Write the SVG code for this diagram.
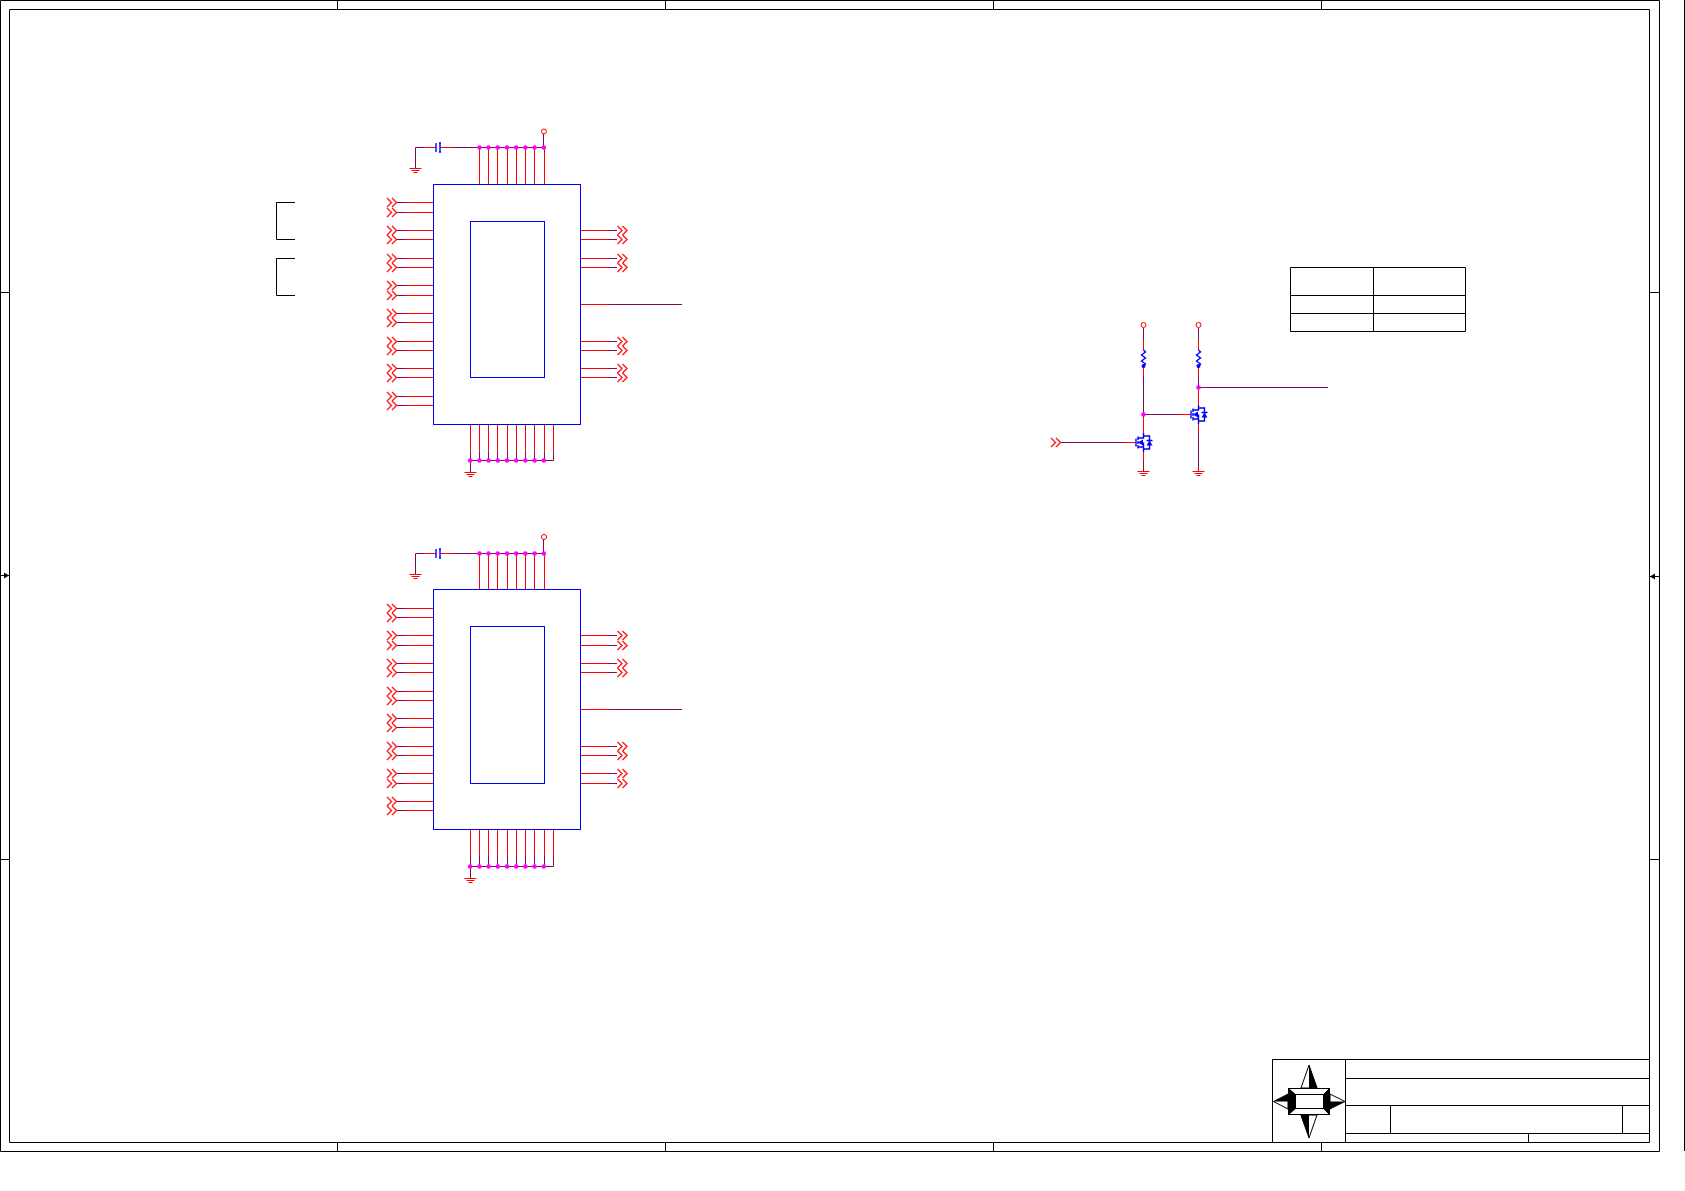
<svg xmlns="http://www.w3.org/2000/svg" width="1685" height="1191" viewBox="0 0 1685 1191">
<style>
.k{fill:none;stroke:#000;stroke-width:1}
.b{fill:none;stroke:#0000ff;stroke-width:1}
.bb{fill:none;stroke:#0000ff;stroke-width:1.4}
.r{fill:none;stroke:#ff0000;stroke-width:1}
.rr{fill:none;stroke:#ff1a1a;stroke-width:1.4}
.p{fill:none;stroke:#7f0a55;stroke-width:1}
.d{fill:#ff00ff;stroke:none}
.d circle{r:2.3px}
.bf{fill:#0000ff;stroke:none}
.kf{fill:#000;stroke:none}
.wf{fill:#fff;stroke:#000;stroke-width:1}
</style>
<defs>
<path id="chev" class="rr" d="M0 -4.5L4.5 0L0 4.5M5 -4.5L9.5 0L5 4.5"/>
<path id="gnd" class="r" d="M-6 0H6M-4 2H4M-2 4H2"/>
<circle id="pwr" class="r" cx="0" cy="0" r="2.5"/>
<g id="cap"><path class="bb" d="M-2 -4.5V4.5M2 -4.5V4.5M1 -4.5H3M1 4.5H3"/></g>
<g id="res"><path class="bb" d="M0 0L2 2L-2 5L2 8L-2 11L2 14L0 16V18"/><circle class="bf" cx="0" cy="16" r="2"/></g>
<g id="fet">
<path class="bb" d="M-7.5 -4V4M-5.5 -6V-2.5M-5.5 -1.5V1.5M-5.5 2.5V6M-5.5 -4.5H0V-9.5M-5.5 4.5H0V9.5M0 0V4.5M0 -6.5H6V6.5H0M3 -2H9"/>
<path class="bf" d="M-5.5 0L-0.5 -3V3Z"/>
<path class="bf" d="M3 3H9L6 -2Z"/>
</g>
</defs>
<rect width="1685" height="1191" fill="#fff"/>
<g id="frame">
<path class="k" d="M0.5 0.5H1659.5V1151.5H0.5ZM9.5 9.5H1649.5V1142.5H9.5ZM1684.5 0V1151"/>
<path class="k" d="M337.5 0V9M665.5 0V9M993.5 0V9M1321.5 0V9M337.5 1142V1151M665.5 1142V1151M993.5 1142V1151M1321.5 1142V1151M0 292.5H9M0 859.5H9M1649 292.5H1659M1649 859.5H1659M0 575.5H9M1650 576.5H1659"/>
<path class="kf" d="M9 575.5L4 572.5V578.5Z"/>
<path class="kf" d="M1650 576.5L1655 573.5V579.5Z"/>
</g>
<g id="title-block">
<path class="k" d="M1272.5 1059.5H1649.5M1272.5 1059.5V1142.5M1345.5 1059.5V1142.5M1345.5 1078.5H1649.5M1345.5 1105.5H1649.5M1345.5 1133.5H1649.5M1390.5 1105.5V1133.5M1622.5 1105.5V1133.5M1528.5 1133.5V1142.5"/>
<g id="compass">
<path class="wf" d="M1309 1065L1301 1088H1317Z"/>
<path class="kf" d="M1309 1065L1317.5 1088.5H1309Z"/>
<path class="wf" d="M1309 1138L1301 1115H1317Z"/>
<path class="kf" d="M1309 1138L1300.5 1115H1309Z"/>
<path class="wf" d="M1273.5 1101.5L1288 1094V1109Z"/>
<path class="kf" d="M1273.5 1101.5L1288.5 1094V1101.5Z"/>
<path class="wf" d="M1345 1101.5L1330 1094V1109Z"/>
<path class="kf" d="M1345 1101.5L1329.5 1109V1101.5Z"/>
<rect class="wf" x="1288.5" y="1088.5" width="41" height="26"/>
<path class="kf" d="M1288.5 1088.5L1295.5 1094.5V1108.5L1288.5 1114.5Z"/>
<path class="kf" d="M1329.5 1088.5L1323.5 1094.5V1108.5L1329.5 1114.5Z"/>
<rect class="wf" x="1295.5" y="1094.5" width="28" height="14"/>
<path class="k" d="M1288.5 1088.5L1295.5 1094.5M1329.5 1088.5L1323.5 1094.5M1288.5 1114.5L1295.5 1108.5M1329.5 1114.5L1323.5 1108.5"/>
</g>
</g>
<g id="table">
<path class="k" d="M1290.5 267.5H1465.5V331.5H1290.5ZM1373.5 267.5V331.5M1290.5 295.5H1465.5M1290.5 313.5H1465.5"/>
</g>
<g id="bracket-1"><path class="k" d="M295 202.5H276.5V239.5H295"/></g>
<g id="bracket-2"><path class="k" d="M295 258.5H276.5V295.5H295"/></g>

<g id="connectors">
<g id="wires-chip1">
<path class="r" d="M405 202.5H433M405 212.5H433M405 230.5H433M405 239.5H433M405 258.5H433M405 267.5H433M405 285.5H433M405 295.5H433M405 313.5H433M405 322.5H433M405 341.5H433M405 350.5H433M405 368.5H433M405 377.5H433M405 396.5H433M405 405.5H433"/>
<path class="p" d="M397 202.5H405M397 212.5H405M397 230.5H405M397 239.5H405M397 258.5H405M397 267.5H405M397 285.5H405M397 295.5H405M397 313.5H405M397 322.5H405M397 341.5H405M397 350.5H405M397 368.5H405M397 377.5H405M397 396.5H405M397 405.5H405"/>
<path class="r" d="M581 230.5H609M581 239.5H609M581 258.5H609M581 267.5H609M581 304.5H609M581 341.5H609M581 350.5H609M581 368.5H609M581 377.5H609"/>
<path class="p" d="M609 230.5H617M609 239.5H617M609 258.5H617M609 267.5H617M609 304.5H682M609 341.5H617M609 350.5H617M609 368.5H617M609 377.5H617"/>
<path class="r" d="M479.5 147.5V184M488.5 147.5V184M497.5 147.5V184M507.5 147.5V184M516.5 147.5V184M525.5 147.5V184M534.5 147.5V184M544.5 147.5V184"/>
<path class="p" d="M415.5 168V147.5H424M452 147.5H544M543.5 147.5V134"/>
<path class="r" d="M424 147.5H436M440 147.5H452"/>
<path class="r" d="M470.5 425V451.5M479.5 425V451.5M488.5 425V451.5M497.5 425V451.5M507.5 425V451.5M516.5 425V451.5M525.5 425V451.5M534.5 425V451.5M544.5 425V451.5M553.5 425V451.5"/>
<path class="p" d="M470.5 451.5V472M479.5 451.5V460M488.5 451.5V460M497.5 451.5V460M507.5 451.5V460M516.5 451.5V460M525.5 451.5V460M534.5 451.5V460M544.5 451.5V460M553.5 451.5V460.5H470.5"/>
<g class="d">
<circle cx="479.5" cy="147.5" r="2"/><circle cx="488.5" cy="147.5" r="2"/><circle cx="497.7" cy="147.5" r="2"/><circle cx="507" cy="147.5" r="2"/><circle cx="516.2" cy="147.5" r="2"/><circle cx="525.4" cy="147.5" r="2"/><circle cx="534.6" cy="147.5" r="2"/><circle cx="543.8" cy="147.5" r="2"/>
<circle cx="470.2" cy="460.5" r="2"/><circle cx="479.4" cy="460.5" r="2"/><circle cx="488.6" cy="460.5" r="2"/><circle cx="497.8" cy="460.5" r="2"/><circle cx="507" cy="460.5" r="2"/><circle cx="516.2" cy="460.5" r="2"/><circle cx="525.4" cy="460.5" r="2"/><circle cx="534.6" cy="460.5" r="2"/><circle cx="543.8" cy="460.5" r="2"/>
</g>
</g>
<g id="wires-chip2">
<path class="r" d="M405 608.5H433M405 617.5H433M405 635.5H433M405 645.5H433M405 663.5H433M405 672.5H433M405 691.5H433M405 700.5H433M405 718.5H433M405 727.5H433M405 746.5H433M405 755.5H433M405 773.5H433M405 783.5H433M405 801.5H433M405 810.5H433"/>
<path class="p" d="M397 608.5H405M397 617.5H405M397 635.5H405M397 645.5H405M397 663.5H405M397 672.5H405M397 691.5H405M397 700.5H405M397 718.5H405M397 727.5H405M397 746.5H405M397 755.5H405M397 773.5H405M397 783.5H405M397 801.5H405M397 810.5H405"/>
<path class="r" d="M581 635.5H609M581 645.5H609M581 663.5H609M581 672.5H609M581 709.5H609M581 746.5H609M581 755.5H609M581 773.5H609M581 783.5H609"/>
<path class="p" d="M609 635.5H617M609 645.5H617M609 663.5H617M609 672.5H617M609 709.5H682M609 746.5H617M609 755.5H617M609 773.5H617M609 783.5H617"/>
<path class="r" d="M479.5 553.5V589M488.5 553.5V589M497.5 553.5V589M507.5 553.5V589M516.5 553.5V589M525.5 553.5V589M534.5 553.5V589M544.5 553.5V589"/>
<path class="p" d="M415.5 574V553.5H424M452 553.5H544M543.5 553.5V539"/>
<path class="r" d="M424 553.5H436M440 553.5H452"/>
<path class="r" d="M470.5 830V857M479.5 830V857M488.5 830V857M497.5 830V857M507.5 830V857M516.5 830V857M525.5 830V857M534.5 830V857M544.5 830V857M553.5 830V857"/>
<path class="p" d="M470.5 857V878M479.5 857V866M488.5 857V866M497.5 857V866M507.5 857V866M516.5 857V866M525.5 857V866M534.5 857V866M544.5 857V866M553.5 857V866.5H470.5"/>
<g class="d">
<circle cx="479.5" cy="553.5" r="2"/><circle cx="488.5" cy="553.5" r="2"/><circle cx="497.7" cy="553.5" r="2"/><circle cx="507" cy="553.5" r="2"/><circle cx="516.2" cy="553.5" r="2"/><circle cx="525.4" cy="553.5" r="2"/><circle cx="534.6" cy="553.5" r="2"/><circle cx="543.8" cy="553.5" r="2"/>
<circle cx="470.2" cy="866.5" r="2"/><circle cx="479.4" cy="866.5" r="2"/><circle cx="488.6" cy="866.5" r="2"/><circle cx="497.8" cy="866.5" r="2"/><circle cx="507" cy="866.5" r="2"/><circle cx="516.2" cy="866.5" r="2"/><circle cx="525.4" cy="866.5" r="2"/><circle cx="534.6" cy="866.5" r="2"/><circle cx="543.8" cy="866.5" r="2"/>
</g>
</g>
<g id="wires-driver">
<path class="p" d="M1143.5 328V340M1143.5 377V414.5M1198.5 328V340M1198.5 377V387.5H1328M1143.5 414.5H1179M1061 442.5H1123M1143.5 460V471M1198.5 433V471"/>
<path class="r" d="M1143.5 340V350M1143.5 368V377M1198.5 340V350M1198.5 368V377M1143.5 415V433M1198.5 388V405M1179 414.5H1190.5M1123 442.5H1135.5M1143.5 452V460M1198.5 424V433"/>
<g class="d"><circle cx="1143.5" cy="414.5" r="2"/><circle cx="1198.5" cy="387.5" r="2"/></g>
</g>
</g>

<g id="chip1">
<rect class="b" x="433.5" y="184.5" width="147" height="240"/>
<rect class="b" x="470.5" y="221.5" width="74" height="156"/>
</g>
<g id="chip2">
<rect class="b" x="433.5" y="589.5" width="147" height="240"/>
<rect class="b" x="470.5" y="626.5" width="74" height="157"/>
</g>

<g id="ports-chip1">
<use href="#chev" x="387" y="202.5"/><use href="#chev" x="387" y="212.5"/><use href="#chev" x="387" y="230.5"/><use href="#chev" x="387" y="239.5"/><use href="#chev" x="387" y="258.5"/><use href="#chev" x="387" y="267.5"/><use href="#chev" x="387" y="285.5"/><use href="#chev" x="387" y="295.5"/><use href="#chev" x="387" y="313.5"/><use href="#chev" x="387" y="322.5"/><use href="#chev" x="387" y="341.5"/><use href="#chev" x="387" y="350.5"/><use href="#chev" x="387" y="368.5"/><use href="#chev" x="387" y="377.5"/><use href="#chev" x="387" y="396.5"/><use href="#chev" x="387" y="405.5"/>
<use href="#chev" x="617.5" y="230.5"/><use href="#chev" x="617.5" y="239.5"/><use href="#chev" x="617.5" y="258.5"/><use href="#chev" x="617.5" y="267.5"/><use href="#chev" x="617.5" y="341.5"/><use href="#chev" x="617.5" y="350.5"/><use href="#chev" x="617.5" y="368.5"/><use href="#chev" x="617.5" y="377.5"/>
</g>
<g id="ports-chip2">
<use href="#chev" x="387" y="608.5"/><use href="#chev" x="387" y="617.5"/><use href="#chev" x="387" y="635.5"/><use href="#chev" x="387" y="645.5"/><use href="#chev" x="387" y="663.5"/><use href="#chev" x="387" y="672.5"/><use href="#chev" x="387" y="691.5"/><use href="#chev" x="387" y="700.5"/><use href="#chev" x="387" y="718.5"/><use href="#chev" x="387" y="727.5"/><use href="#chev" x="387" y="746.5"/><use href="#chev" x="387" y="755.5"/><use href="#chev" x="387" y="773.5"/><use href="#chev" x="387" y="783.5"/><use href="#chev" x="387" y="801.5"/><use href="#chev" x="387" y="810.5"/>
<use href="#chev" x="617.5" y="635.5"/><use href="#chev" x="617.5" y="645.5"/><use href="#chev" x="617.5" y="663.5"/><use href="#chev" x="617.5" y="672.5"/><use href="#chev" x="617.5" y="746.5"/><use href="#chev" x="617.5" y="755.5"/><use href="#chev" x="617.5" y="773.5"/><use href="#chev" x="617.5" y="783.5"/>
</g>

<g id="cap1"><use href="#cap" x="438" y="147.5"/></g>
<g id="cap2"><use href="#cap" x="438" y="553.5"/></g>
<g id="pwr1"><use href="#pwr" x="544" y="131.5"/></g>
<g id="pwr2"><use href="#pwr" x="544" y="537"/></g>
<g id="gnd1"><use href="#gnd" x="415.5" y="168.5"/></g>
<g id="gnd2"><use href="#gnd" x="470.5" y="472.5"/></g>
<g id="gnd3"><use href="#gnd" x="415.5" y="574.5"/></g>
<g id="gnd4"><use href="#gnd" x="470.5" y="878.5"/></g>

<g id="q1"><use href="#fet" x="1143.5" y="442.5"/></g>
<g id="q2"><use href="#fet" x="1198.5" y="414.5"/></g>
<g id="r1"><use href="#res" x="1143.5" y="350"/></g>
<g id="r2"><use href="#res" x="1198.5" y="350"/></g>
<g id="pwr3"><use href="#pwr" x="1143.5" y="325"/></g>
<g id="pwr4"><use href="#pwr" x="1198.5" y="325"/></g>
<g id="gnd5"><use href="#gnd" x="1143.5" y="471.5"/></g>
<g id="gnd6"><use href="#gnd" x="1198.5" y="471.5"/></g>
<g id="port-in"><use href="#chev" x="1051" y="442.5"/></g>
</svg>
